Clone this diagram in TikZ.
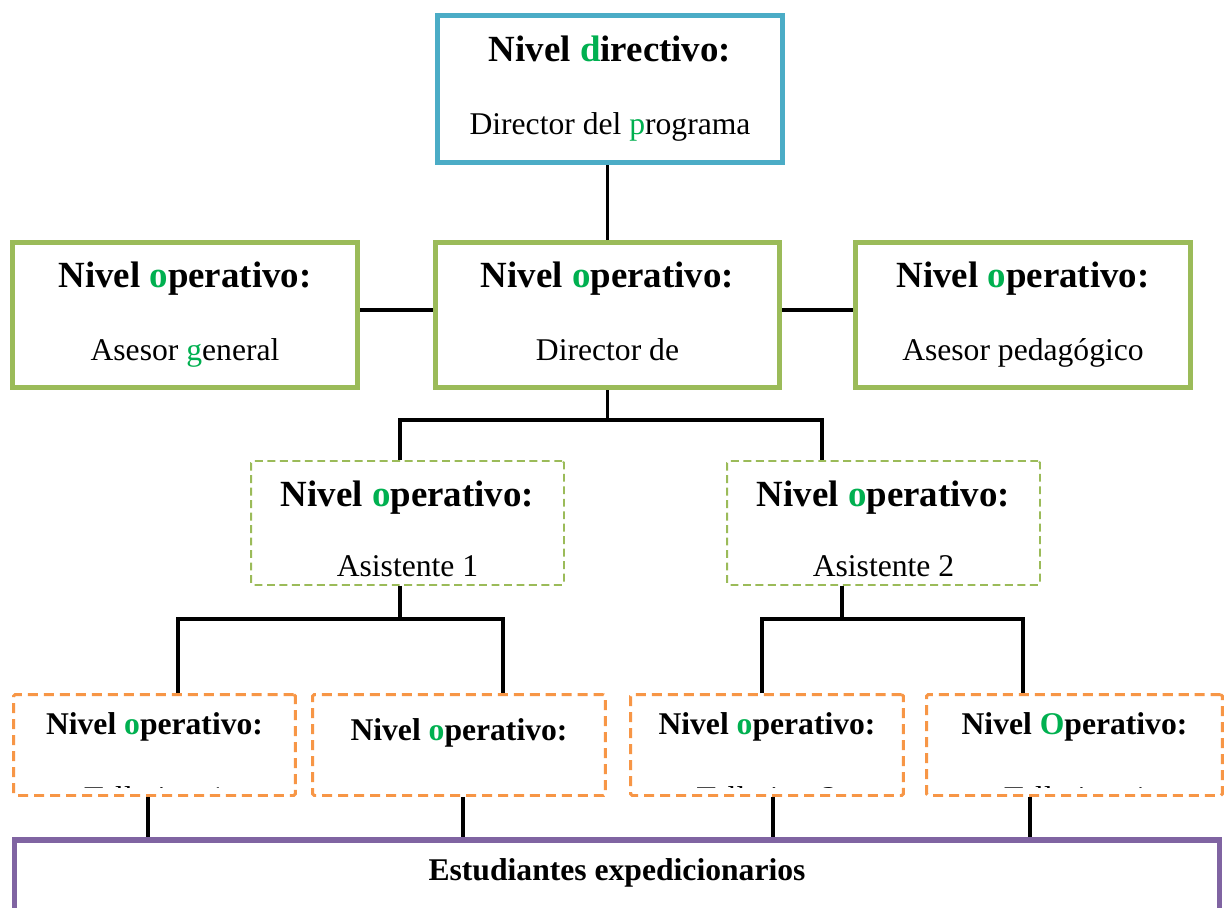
\documentclass[tikz,border=0pt]{standalone}
\usepackage{xcolor}
\usepackage{fontspec}
\setmainfont{Liberation Serif}
\usepackage{tikz}
\usetikzlibrary{positioning,calc}
\definecolor{DirBlue}{HTML}{4BACC6}
\definecolor{OpGreen}{HTML}{9BBB59}
\definecolor{TallOrange}{HTML}{F79646}
\definecolor{EstPurple}{HTML}{8064A2}
\definecolor{LetterGreen}{HTML}{00B050}
\newcommand{\gl}[1]{\textcolor{LetterGreen}{#1}}
\newcommand{\hdA}{\fontsize{21}{25}\selectfont\bfseries}
\newcommand{\hdB}{\fontsize{18}{22}\selectfont\bfseries}
\tikzset{
  % Base box
  BX/.style={rectangle,align=center,inner sep=0pt,fill=white,
             font=\fontsize{18}{22}\selectfont},
  % Plain text
  TX/.style={align=center,inner sep=0pt,font=\fontsize{18}{22}\selectfont},
  % Solid frames
  nD/.style={BX,draw=DirBlue,line width=3.2pt},
  nO/.style={BX,draw=OpGreen,line width=3.2pt},
  nE/.style={BX,draw=EstPurple,line width=3.2pt},
  % Dashed frames
  nA/.style={BX,draw=OpGreen,line width=1.1pt,rounded corners=1pt,
             dash pattern=on 4.5pt off 2.6pt},
  nT/.style={BX,draw=TallOrange,line width=1.7pt,rounded corners=1pt,
             dash pattern=on 5.7pt off 3.4pt,minimum height=2.02cm},
  % Connector
  ln/.style={line width=2.2pt,black}
}
\begin{document}
\begin{tikzpicture}[x=0.02cm,y=-0.02cm]
  \useasboundingbox (0,0) rectangle (1227,907);
  \node[nD,minimum width=6.9cm,minimum height=2.94cm] (dir) at (610,89)
       {{\hdA Nivel \gl{d}irectivo:}\\[19.5pt]Director del \gl{p}rograma};
  \node[nO,minimum width=6.88cm,minimum height=2.9cm] (ops) at (607.5,315)
       {{\hdA Nivel \gl{o}perativo:}\\[19.5pt]Director de\vphantom{p}};
  \node[nO,minimum width=6.9cm,minimum height=2.9cm] (gen) at (185,315)
       {{\hdA Nivel \gl{o}perativo:}\\[19.5pt]Asesor \gl{g}eneral};
  \node[nO,minimum width=6.7cm,minimum height=2.9cm] (ped) at (1023,315)
       {{\hdA Nivel \gl{o}perativo:}\\[19.5pt]Asesor pedagógico};
  \node[nA,minimum width=6.26cm,minimum height=2.48cm] (as1) at (407.5,523)
       {{\hdA\rule{0pt}{21pt}Nivel \gl{o}perativo:}\\[17.7pt]Asistente 1};
  \node[nA,minimum width=6.26cm,minimum height=2.48cm] (as2) at (883.5,523)
       {{\hdA\rule{0pt}{21pt}Nivel \gl{o}perativo:}\\[17.7pt]Asistente 2};
  \node[nT,minimum width=5.64cm] (ta1) at (154.5,745) {};
  \node[nT,minimum width=5.86cm] (ta2) at (459,745) {};
  \node[nT,minimum width=5.46cm] (ta3) at (767,745) {};
  \node[nT,minimum width=5.92cm] (ta4) at (1074.5,745) {};
  \node[TX] (ta2-txt) at ($(ta2.center)+(0,-12)$) {\hdB Nivel \gl{o}perativo:};
  \foreach \bx/\lt/\num in {ta1/o/1,ta3/o/3,ta4/O/4}{
    \begin{scope}
      \clip ($(\bx.south west)+(0,-9)$) rectangle (\bx.north east);
      \node[TX] (\bx-txt) at ($(\bx.center)+(0,16)$)
           {{\hdB Nivel \gl{\lt}perativo:}\\[20.2pt]Tallerista \num};
    \end{scope}
  }
  \node[nE,minimum width=24.1cm,minimum height=1.79cm,text depth=17.5pt,font=\hdB]
       (est) at (617,885) {Estudiantes expedicionarios};

  \draw[ln] (ops.north) -- (ops.north |- dir.south);
  \draw[ln] ($(gen.east)+(0,-5)$) -- ($(ops.west)+(0,-5)$);
  \draw[ln] ($(ops.east)+(0,-5)$) -- ($(ped.west)+(0,-5)$);
  \draw[ln] (ops.south) -- ++(0,30) coordinate (jA);
  \draw[ln] ($(as1.north)+(-7.5,0)$) |- (jA) -| ($(as2.north)+(-61.5,0)$);
  \draw[ln] ($(as1.south)+(-7.5,0)$) -- ++(0,33) coordinate (jB);
  \draw[ln] ($(ta1.north)+(23.5,0)$) |- (jB) -| ($(ta2.north)+(44,0)$);
  \draw[ln] ($(as2.south)+(-41.5,0)$) -- ++(0,33) coordinate (jC);
  \draw[ln] ($(ta3.north)+(-5,0)$) |- (jC) -| ($(ta4.north)+(-51.5,0)$);
  \foreach \bx/\dx in {ta1/-6.5,ta2/4,ta3/6,ta4/-44.5}{
    \path ($(\bx.south)+(\dx,0)$) coordinate (\bx-out);
    \draw[ln] (\bx-out) -- (\bx-out |- est.north);
  }
\end{tikzpicture}
\end{document}
